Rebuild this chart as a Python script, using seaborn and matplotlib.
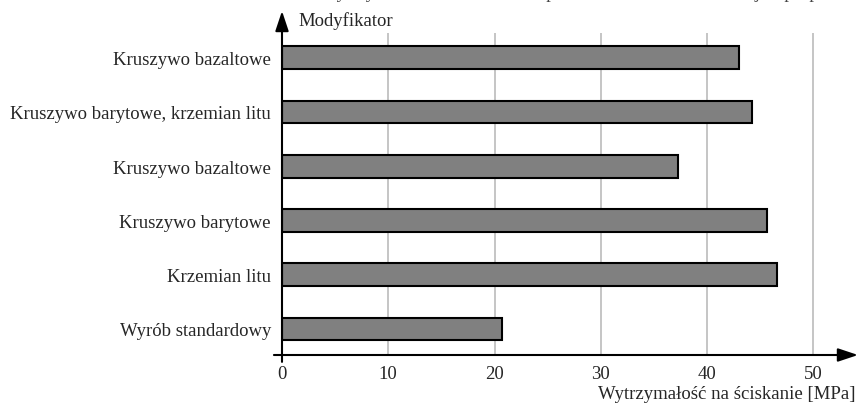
import numpy as np
import pandas as pd
import seaborn as sns
import matplotlib.pyplot as plt

sns.set_style("white")
plt.rcParams['font.family'] = ['Liberation Serif', 'DejaVu Serif']
plt.rcParams['font.size'] = 13.5

# data (top to bottom)
modifiers = ['Kruszywo bazaltowe', 'Kruszywo barytowe, krzemian litu', 'Kruszywo bazaltowe',
             'Kruszywo barytowe', 'Krzemian litu', 'Wyrób standardowy']
strength = [43.0, 44.2, 37.3, 45.6, 46.6, 20.7]
x_ticks = [0, 10, 20, 30, 40, 50]

df = pd.DataFrame({'pos': np.arange(len(modifiers)), 'Modyfikator': modifiers, 'Wytrzymalosc': strength})

fig = plt.figure(figsize=(8.58, 4.06), dpi=100)
ax = fig.add_axes([282 / 858, 50 / 406, 576 / 858, 344 / 406])

sns.barplot(data=df, y='pos', x='Wytrzymalosc', orient='h', color='#808080', saturation=1,
            edgecolor='black', linewidth=1.5, width=0.42, ax=ax)

ax.set_xlim(0, 54.2)
ax.set_ylim(5.48, -0.86)

# grid lines (stop short of the top)
ax.vlines(x_ticks[1:], -0.45, 5.48, colors='#c0c0c0', linewidth=1.3, zorder=0)

for s in ax.spines.values():
    s.set_visible(False)

# axes with arrows
ax.annotate('', xy=(1.0, 0), xycoords='axes fraction', xytext=(-0.014, 0),
            arrowprops=dict(arrowstyle='-|>,head_length=0.9,head_width=0.3', color='black', lw=1.5,
                            shrinkA=0, shrinkB=0), annotation_clip=False)
ax.annotate('', xy=(0, 1.0), xycoords='axes fraction', xytext=(0, -0.02),
            arrowprops=dict(arrowstyle='-|>,head_length=0.9,head_width=0.3', color='black', lw=1.5,
                            shrinkA=0, shrinkB=0), annotation_clip=False)

ax.set_xticks(x_ticks)
ax.set_xticklabels([str(t) for t in x_ticks])
ax.tick_params(axis='x', length=0, pad=7, labelsize=13.5)

ax.set_yticks(np.arange(len(modifiers)))
ax.set_yticklabels(modifiers)
ax.tick_params(axis='y', which='major', length=0, pad=8, labelsize=13.5)
ax.set_yticks(np.arange(len(modifiers) - 1) + 0.5, minor=True)
ax.tick_params(axis='y', which='minor', length=6, color='#b0b0b0', width=1)

ax.set_xlabel('')
ax.set_ylabel('')
fig.text(298 / 858, 1 - 21 / 406, 'Modyfikator', ha='left', va='center', fontsize=13.5)
fig.text(855 / 858, 1 - 395 / 406, 'Wytrzymałość na ściskanie [MPa]', ha='right', va='center', fontsize=13.5)

# caption cut off at the top edge of the image
fig.text(856 / 858, 1 + 2 / 406, 'Wytrzymałość na ściskanie zapraw w zależności od rodzaju i proporcie',
         ha='right', va='baseline', fontsize=13.5, color='#444444')

fig.savefig('out.png', dpi=100)
